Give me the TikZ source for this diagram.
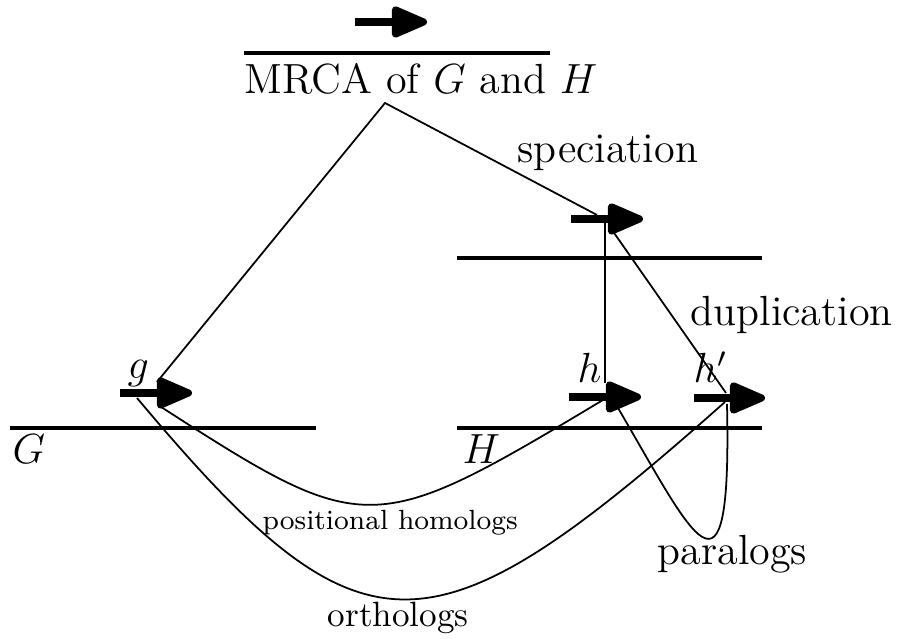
\documentclass[tikz,border=0pt]{standalone}
\usepackage{tikz}
\usetikzlibrary{arrows.meta}
\begin{document}
\begin{tikzpicture}[
  event/.style={line width=2.3pt, -{Triangle[length=4.1mm, width=3.3mm, line width=2pt, round]}},
  species/.style={line width=0.9pt},
  link/.style={line width=0.5pt},
  lbl/.style={inner sep=0pt, anchor=base west, font=\large}
]
\useasboundingbox (0,0) rectangle (8.97,6.39);

% Ancestor
\coordinate (a0) at (3.55,6.17);
\coordinate (a1) at (4.27,6.17);
\draw[event] (a0) -- (a1);
\coordinate (mrcaL) at (2.44,5.86);
\coordinate (mrcaR) at (5.50,5.86);
\draw[species] (mrcaL) -- (mrcaR);
\node[lbl] (mrca) at (2.44,5.45) {MRCA of $G$ and $H$};
\coordinate (apex) at (3.85,5.36);

% Speciation
\coordinate (s0) at (5.71,4.20);
\coordinate (s1) at (6.43,4.20);
\draw[event] (s0) -- (s1);
\coordinate (specL) at (4.57,3.81);
\coordinate (specR) at (7.62,3.81);
\draw[species] (specL) -- (specR);
\node[lbl] (spec) at (5.17,4.76) {speciation};
\node[lbl] (dup) at (6.90,3.13) {duplication};

% Species G
\coordinate (g0) at (1.20,2.46);
\coordinate (g1) at (1.92,2.46);
\draw[event] (g0) -- (g1);
\coordinate (GL) at (0.10,2.11);
\coordinate (GR) at (3.16,2.11);
\draw[species] (GL) -- (GR);
\node[lbl] (glbl) at (1.27,2.60) {$g$};
\node[lbl] (Glbl) at (0.12,1.75) {$G$};

% Species H
\coordinate (h0) at (5.69,2.42);
\coordinate (h1) at (6.41,2.42);
\draw[event] (h0) -- (h1);
\coordinate (hp0) at (6.94,2.41);
\coordinate (hp1) at (7.65,2.41);
\draw[event] (hp0) -- (hp1);
\coordinate (HL) at (4.57,2.11);
\coordinate (HR) at (7.62,2.11);
\draw[species] (HL) -- (HR);
\node[lbl] (hlbl) at (5.77,2.56) {$h$};
\node[lbl] (hplbl) at (6.93,2.56) {$h'$};
\node[lbl] (Hlbl) at (4.62,1.75) {$H$};

% Tree edges
\coordinate (gtop) at (1.57,2.57);
\coordinate (spin) at (5.97,4.24);
\coordinate (spdown) at (6.05,4.19);
\coordinate (htop) at (6.05,2.56);
\coordinate (spdiag) at (6.12,4.09);
\coordinate (hptop) at (7.26,2.46);
\draw[link] (gtop) -- (apex) -- (spin);
\draw[link] (spdown) -- (htop);
\draw[link] (spdiag) -- (hptop);

% Relations
\coordinate (gA) at (1.58,2.34);
\coordinate (gB) at (1.37,2.41);
\coordinate (hA) at (6.03,2.39);
\coordinate (hB) at (6.18,2.31);
\coordinate (hpA) at (7.25,2.37);
\coordinate (hpB) at (7.27,2.35);
\draw[link] (gA) .. controls (3.66,1.00) and (3.71,1.00) .. (hA);
\draw[link] (gB) .. controls (3.62,-0.27) and (4.28,-0.27) .. (hpA);
\draw[link] (hB) .. controls (6.92,1.05) and (7.32,0.12) .. (hpB);
\node[inner sep=0pt, anchor=base west, font=\fontsize{7.9}{9}\selectfont] (pos) at (2.62,1.09) {positional homologs};
\node[inner sep=0pt, anchor=base west] (orth) at (3.27,0.12) {orthologs};
\node[lbl] (para) at (6.57,0.74) {paralogs};

\end{tikzpicture}
\end{document}
